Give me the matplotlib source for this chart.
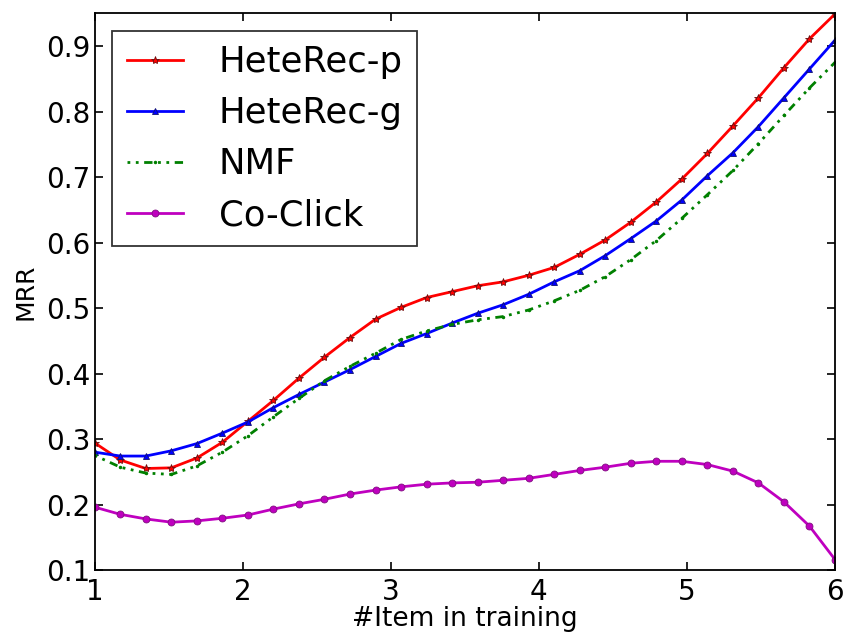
import numpy as np
import matplotlib
matplotlib.use("Agg")
import matplotlib.pyplot as plt

# 30 sample points between 1 and 6 items
x_items = np.linspace(1, 6, 30)

# MRR values
mrr_heterec_p = [0.294, 0.268, 0.255, 0.256, 0.271, 0.295, 0.327, 0.359, 0.393, 0.425,
                 0.455, 0.483, 0.501, 0.516, 0.525, 0.534, 0.540, 0.550, 0.562, 0.582,
                 0.604, 0.631, 0.662, 0.697, 0.736, 0.778, 0.821, 0.867, 0.911, 0.949]
mrr_heterec_g = [0.280, 0.274, 0.274, 0.282, 0.293, 0.309, 0.326, 0.348, 0.368, 0.387,
                 0.406, 0.426, 0.446, 0.461, 0.477, 0.492, 0.505, 0.521, 0.540, 0.557,
                 0.580, 0.606, 0.633, 0.665, 0.702, 0.737, 0.777, 0.821, 0.865, 0.909]
mrr_nmf = [0.275, 0.257, 0.248, 0.246, 0.259, 0.280, 0.305, 0.334, 0.362, 0.389,
           0.411, 0.431, 0.452, 0.465, 0.475, 0.482, 0.487, 0.497, 0.511, 0.527,
           0.548, 0.574, 0.603, 0.637, 0.673, 0.710, 0.751, 0.794, 0.836, 0.875]
mrr_coclick = [0.196, 0.185, 0.178, 0.173, 0.175, 0.179, 0.184, 0.193, 0.201, 0.208,
               0.216, 0.222, 0.227, 0.231, 0.233, 0.234, 0.237, 0.240, 0.246, 0.252,
               0.257, 0.263, 0.266, 0.266, 0.261, 0.251, 0.233, 0.204, 0.167, 0.116]

x_ticks = [1, 2, 3, 4, 5, 6]
y_ticks = [0.1, 0.2, 0.3, 0.4, 0.5, 0.6, 0.7, 0.8, 0.9]

fig = plt.figure(figsize=(8.46, 6.33), dpi=100)
ax = fig.add_axes([0.112, 0.0995, 0.875, 0.8795])

ax.plot(x_items, mrr_heterec_p, color='r', lw=2, marker='*', ms=6,
        mec='#6a1010', mew=0.6, label='HeteRec-p')
ax.plot(x_items, mrr_heterec_g, color='b', lw=2, marker='^', ms=5,
        mec='#101070', mew=0.6, label='HeteRec-g')
ax.plot(x_items, mrr_nmf, color='g', lw=2, ls=(0, (1, 2, 1, 2, 3, 2)),
        marker='.', ms=3, label='NMF')
ax.plot(x_items, mrr_coclick, color='m', lw=2, marker='o', ms=5,
        mec='#801080', mew=0.6, label='Co-Click')

ax.set_xlim(1, 6)
ax.set_ylim(0.1, 0.95)
ax.set_xticks(x_ticks)
ax.set_yticks(y_ticks)
ax.set_xticklabels([str(t) for t in x_ticks])
ax.set_yticklabels(['%.1f' % t for t in y_ticks])
ax.tick_params(direction='in', length=6, width=1.2, labelsize=20,
               top=True, right=True)
ax.tick_params(axis='x', pad=6)
ax.tick_params(axis='y', pad=3)
for sp in ax.spines.values():
    sp.set_linewidth(1.3)

ax.set_xlabel('#Item in training', fontsize=19, labelpad=0)
ax.set_ylabel('MRR', fontsize=18, labelpad=6)

leg = ax.legend(loc='upper left', fontsize=25.5, frameon=True, fancybox=False,
                handlelength=1.6, handletextpad=1.0, labelspacing=0.48,
                borderaxespad=0.5, borderpad=0.4)
leg.get_frame().set_edgecolor('black')
leg.get_frame().set_linewidth(1.3)

fig.savefig('out.png', dpi=100)
